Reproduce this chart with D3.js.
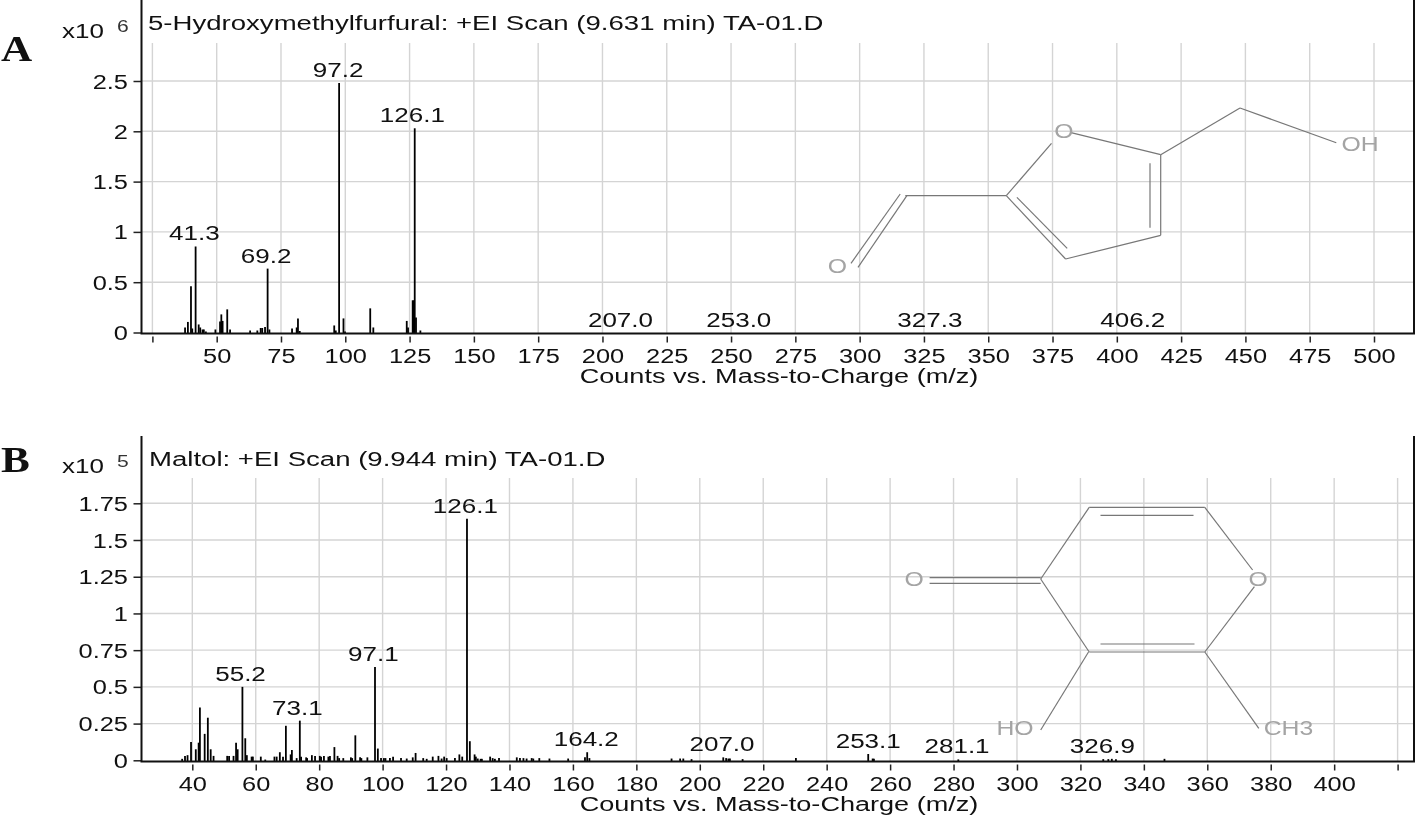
<!DOCTYPE html>
<html>
<head>
<meta charset="utf-8">
<script src="https://cdn.jsdelivr.net/npm/d3@7"></script>
<style>
  html, body { margin: 0; padding: 0; background: #fff; }
  svg { display: block; filter: blur(0.45px); }
</style>
</head>
<body>
<svg id="chart" width="1416" height="817"></svg>
<script>
// Panel A: 5-Hydroxymethylfurfural
var massA = [37.7, 38.8, 40, 40.5, 41.8, 43, 43.6, 44.5, 45, 45.8, 49.5, 51.3, 51.8, 52.3, 54.1, 55.2, 63, 65.8, 67.1, 67.7, 68.8, 69.8, 70.5, 79.3, 81.1, 81.6, 82.3, 95.7, 96.3, 97.6, 99.3, 99.9, 109.7, 110.9, 123.9, 124.4, 126.2, 126.6, 127, 127.5, 129.2];
var intensityA = [0.05, 0.105, 0.46, 0.04, 0.855, 0.08, 0.05, 0.03, 0.03, 0.01, 0.03, 0.11, 0.18, 0.115, 0.23, 0.03, 0.02, 0.02, 0.045, 0.045, 0.055, 0.635, 0.03, 0.04, 0.05, 0.14, 0.015, 0.07, 0.02, 2.48, 0.14, 0.01, 0.24, 0.05, 0.115, 0.05, 0.32, 0.32, 2.03, 0.15, 0.02];
var labelMassA = [41.3, 69.2, 97.2, 126.1, 207.0, 253.0, 327.3, 406.2];
var labelHeightA = [0.855, 0.635, 2.48, 2.03, 0, 0, 0, 0];
var xTicksA = [25, 50, 75, 100, 125, 150, 175, 200, 225, 250, 275, 300, 325, 350, 375, 400, 425, 450, 475, 500];
var yTicksA = [0, 0.5, 1, 1.5, 2, 2.5];

// Panel B: Maltol
var massB = [36.8, 37.7, 38.5, 39.6, 41.1, 42, 42.4, 43.9, 44.9, 45.8, 46.7, 51, 51.6, 53, 53.8, 54.3, 55.8, 56.7, 57.2, 58.7, 59.1, 61.6, 63, 65.9, 66.6, 67.6, 68.6, 69.5, 71, 71.4, 72.9, 73.9, 74.3, 75.9, 76.2, 77.7, 78.7, 80.2, 80.6, 81.5, 82.9, 83.4, 84.8, 85.8, 86.3, 87.6, 90, 90.4, 91.4, 92.9, 93.3, 95.2, 97.6, 98.5, 99.5, 100.4, 100.9, 102.3, 103.3, 105.8, 107.6, 109.5, 110.4, 112.8, 113.9, 115.8, 117.6, 118.6, 119.4, 120.2, 122.8, 124.2, 125.1, 126.6, 127.5, 129, 129.4, 130, 130.9, 131.3, 133.9, 134.7, 135.4, 136.7, 142.3, 143.3, 144.4, 145.4, 147, 147.5, 149.4, 152.6, 158.5, 163.8, 164.5, 165.2, 191.1, 193.8, 194.8, 197.4, 207.4, 208.3, 209, 209.5, 213.5, 230.3, 253.1, 254.5, 254.9, 281.5, 327.2, 328.8, 329.9, 331.2, 346.5];
var intensityB = [0.01, 0.03, 0.035, 0.125, 0.075, 0.12, 0.36, 0.18, 0.29, 0.075, 0.03, 0.03, 0.03, 0.03, 0.12, 0.075, 0.5, 0.15, 0.035, 0.025, 0.025, 0.025, 0.005, 0.025, 0.025, 0.055, 0.025, 0.235, 0.04, 0.07, 0.015, 0.27, 0.025, 0.02, 0.015, 0.035, 0.03, 0.03, 0.025, 0.03, 0.025, 0.03, 0.09, 0.03, 0.015, 0.015, 0.02, 0.015, 0.17, 0.02, 0.015, 0.02, 0.635, 0.08, 0.015, 0.015, 0.015, 0.015, 0.025, 0.015, 0.012, 0.02, 0.05, 0.015, 0.01, 0.025, 0.03, 0.012, 0.025, 0.015, 0.015, 0.04, 0.025, 1.645, 0.13, 0.04, 0.025, 0.012, 0.01, 0.01, 0.025, 0.015, 0.01, 0.015, 0.02, 0.015, 0.015, 0.012, 0.015, 0.012, 0.015, 0.012, 0.012, 0.02, 0.055, 0.015, 0.012, 0.012, 0.012, 0.008, 0.02, 0.015, 0.012, 0.012, 0.008, 0.015, 0.043, 0.012, 0.01, 0.006, 0.008, 0.008, 0.01, 0.008, 0.01];
var labelMassB = [55.2, 73.1, 97.1, 126.1, 164.2, 207.0, 253.1, 281.1, 326.9];
var labelHeightB = [0.5, 0.27, 0.635, 1.645, 0.055, 0.02, 0.043, 0.006, 0.006];
var xTicksB = [40, 60, 80, 100, 120, 140, 160, 180, 200, 220, 240, 260, 280, 300, 320, 340, 360, 380, 400, 420];
var yTicksB = [0, 0.25, 0.5, 0.75, 1, 1.25, 1.5, 1.75];

var svg = d3.select("#chart");
var sans = "'Liberation Sans', Arial, sans-serif";
var stretch = 1.24;   // the source picture is widened, glyphs included

// text with the horizontal stretch of the source
function label(g, x, y, txt, size, anchor, color, sx) {
	return g.append("text")
		.attr("transform", "translate(" + x + "," + y + ") scale(" + (sx || stretch) + ",1)")
		.attr("text-anchor", anchor || "middle")
		.attr("font-family", sans)
		.attr("font-size", size + "px")
		.attr("fill", color || "#111")
		.text(txt);
}

function panel(p) {
	var g = svg.append("g");
	var x = d3.scaleLinear().domain(p.xDomain).range(p.xRange);
	var y = d3.scaleLinear().domain(p.yDomain).range(p.yRange);

	// grid
	g.append("g").selectAll("line").data(p.xTicks).enter().append("line")
		.attr("x1", d => x(d)).attr("x2", d => x(d))
		.attr("y1", p.gridTop).attr("y2", p.axisY)
		.attr("stroke", "#d4d4d4").attr("stroke-width", 1.4);
	g.append("g").selectAll("line").data(p.yTicks.slice(1)).enter().append("line")
		.attr("x1", p.left).attr("x2", p.right)
		.attr("y1", d => y(d)).attr("y2", d => y(d))
		.attr("stroke", "#d4d4d4").attr("stroke-width", 1.4);

	// peaks
	g.append("g").selectAll("line").data(p.mass).enter().append("line")
		.attr("x1", d => x(d)).attr("x2", d => x(d))
		.attr("y1", p.axisY)
		.attr("y2", (d, i) => y(p.intensity[i]))
		.attr("stroke", "#000").attr("stroke-width", 1.8);

	// axes
	var xAxis = d3.axisBottom(x)
		.tickValues(p.xTicks)
		.tickSize(9)
		.tickSizeOuter(0)
		.tickFormat(d => p.hiddenTicks.indexOf(d) >= 0 ? "" : d);
	var gx = g.append("g")
		.attr("transform", "translate(0," + p.axisY + ")")
		.call(xAxis);
	gx.select(".domain").remove();
	gx.selectAll(".tick line").attr("y1", 3).attr("stroke", "#222").attr("stroke-width", 1.5);
	gx.selectAll(".tick text")
		.attr("font-family", sans).attr("font-size", "20.5px").attr("fill", "#111")
		.attr("y", 0).attr("dy", 0)
		.attr("transform", "translate(0,29.5) scale(" + stretch + ",1)");

	var yAxis = d3.axisLeft(y)
		.tickValues(p.yTicks)
		.tickSize(8)
		.tickSizeOuter(0)
		.tickFormat(d => String(d));
	var gy = g.append("g")
		.attr("transform", "translate(" + p.left + ",0)")
		.call(yAxis);
	gy.select(".domain").remove();
	gy.selectAll(".tick line").attr("stroke", "#222").attr("stroke-width", 1.5);
	gy.selectAll(".tick text")
		.attr("font-family", sans).attr("font-size", "20.5px").attr("fill", "#111")
		.attr("x", 0).attr("dy", 0)
		.attr("transform", "translate(-13.5,7) scale(" + stretch + ",1)");

	// frame: left, bottom, right
	g.append("path")
		.attr("d", "M" + p.left + "," + p.top + "V" + p.axisY + "H" + p.right + "V" + p.top)
		.attr("fill", "none").attr("stroke", "#111").attr("stroke-width", 2);

	// peak labels
	p.labelMass.forEach((m, i) => {
		label(g, x(m), y(p.labelHeight[i]) - 6, m.toFixed(1), 21);
	});

	label(g, p.titleX, p.titleY, p.title, 21, "start", "#111", 1.314);
	label(g, 62, p.expY, "x10", 21, "start");
	label(g, 117, p.expY - 6, p.exponent, 17, "start", "#333");
	label(g, 779, p.axisY + 49.5, "Counts vs. Mass-to-Charge (m/z)", 21, "middle", "#111", 1.29);

	g.append("text")
		.attr("transform", "translate(1," + p.letterY + ") scale(1.2,1)")
		.attr("font-family", "'Liberation Serif', serif")
		.attr("font-weight", "bold")
		.attr("font-size", "36px")
		.attr("fill", "#111")
		.text(p.letter);
}

panel({
	mass: massA, intensity: intensityA, labelMass: labelMassA, labelHeight: labelHeightA,
	xTicks: xTicksA, yTicks: yTicksA, hiddenTicks: [25],
	xDomain: [25, 500], xRange: [152.4, 1374], yDomain: [0, 2.5], yRange: [332.5, 81],
	left: 141.5, right: 1414, top: 0, axisY: 333.5, gridTop: 43,
	title: "5-Hydroxymethylfurfural: +EI Scan (9.631 min) TA-01.D", titleX: 148, titleY: 29.5,
	exponent: "6", expY: 37.5, letter: "A", letterY: 60.5
});

panel({
	mass: massB, intensity: intensityB, labelMass: labelMassB, labelHeight: labelHeightB,
	xTicks: xTicksB, yTicks: yTicksB, hiddenTicks: [420],
	xDomain: [40, 420], xRange: [192.3, 1397.6], yDomain: [0, 1.75], yRange: [760.3, 503.3],
	left: 141.5, right: 1414, top: 436, axisY: 761.5, gridTop: 478,
	title: "Maltol: +EI Scan (9.944 min) TA-01.D", titleX: 149, titleY: 465.5,
	exponent: "5", expY: 473, letter: "B", letterY: 471.5
});

// structure sketches, pasted over the plot area in the source
var furanBonds = [
	[1051.5,143.3,1006.3,195.7], [1006.3,195.7,1065.6,259], [1065.6,259,1160.7,235.3],
	[1160.7,235.3,1160.7,154.7], [1160.7,154.7,1071,132.7], [1160.7,154.7,1240,108],
	[1240,108,1336.3,142.7], [1006.3,195.7,905.3,195.7], [900.2,194,851,263.3],
	[906.9,195.7,858,267.3], [1016.9,197.3,1067.2,248.3], [1150,163.3,1150,227.7]
];
var furanAtoms = [["O",1064,138], ["OH",1360,150.5], ["O",837.3,273]];
var pyranBonds = [
	[1089.2,507.3,1204.8,507.3], [1204.8,507.3,1252.6,570], [1204.8,652,1254.4,586.7],
	[1089.2,652,1204.8,652], [1089.2,652,1040.7,579], [1040.7,579,1089.2,507.3],
	[1100.5,515.3,1193.5,515.3], [1100.5,644,1194.5,644], [929.6,577.7,1040.7,577.7],
	[929.6,583.3,1040.7,583.3], [1088.5,652,1040.7,730], [1204.8,652,1258.8,728.3]
];
var pyranAtoms = [["O",914.2,586], ["O",1258.1,586], ["HO",1015,735], ["CH3",1288.5,735]];

var sketch = svg.append("g");
sketch.selectAll("line").data(furanBonds.concat(pyranBonds)).enter().append("line")
	.attr("x1", d => d[0]).attr("y1", d => d[1])
	.attr("x2", d => d[2]).attr("y2", d => d[3])
	.attr("stroke", "#777").attr("stroke-width", 1.2);
furanAtoms.concat(pyranAtoms).forEach(a => {
	label(sketch, a[1], a[2], a[0], 20, "middle", "#a4a4a4");
});
</script>
</body>
</html>
